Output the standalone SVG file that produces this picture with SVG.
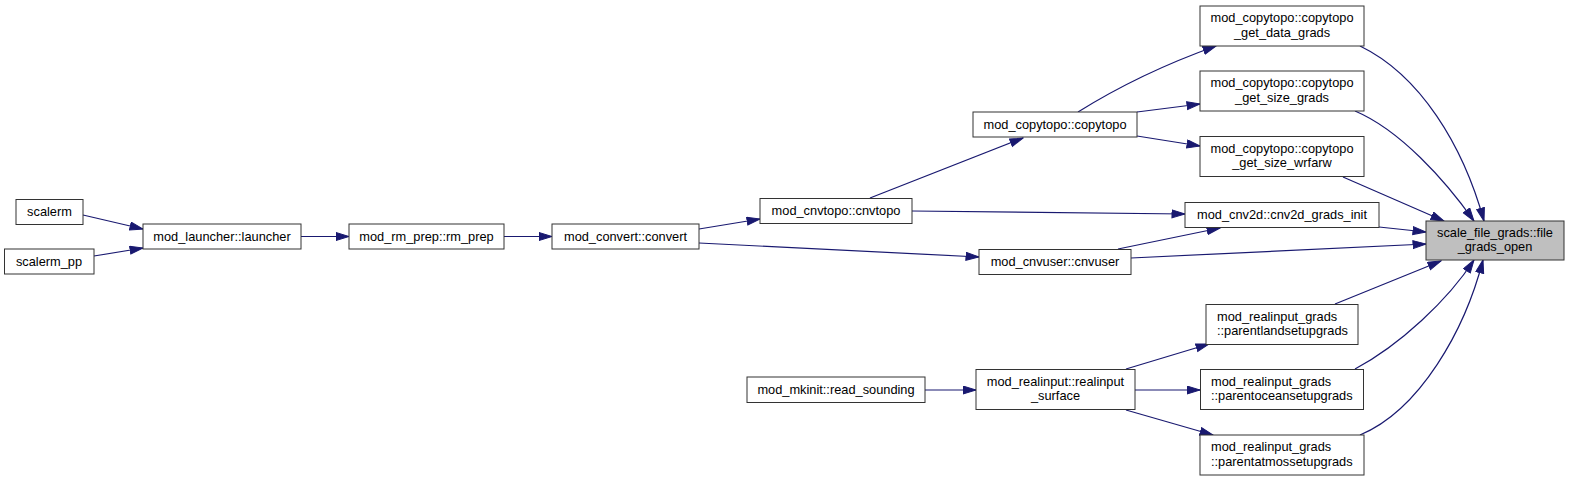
<svg xmlns="http://www.w3.org/2000/svg" width="1569" height="481" viewBox="0 0 1569 481">
<style>
.n rect{fill:#ffffff;stroke:#333333;stroke-width:1}
.n.root rect{fill:#bfbfbf}
.n text{font-family:"Liberation Sans",Arial,sans-serif;font-size:12.8px;fill:#000000}
.c{text-anchor:middle}
.e path{fill:none;stroke:#191970;stroke-width:1.2}
</style>
<defs>
<marker id="ah" markerUnits="userSpaceOnUse" markerWidth="15" markerHeight="10" refX="13.5" refY="4.5" orient="auto">
<path d="M0.5,0.5 L13.5,4.5 L0.5,8.5 z" fill="#191970" stroke="#191970" stroke-width="1"/>
</marker>
</defs>
<rect width="1569" height="481" fill="#ffffff"/>
<g class="e" id="edges">
<path d="M83,215 L143,229" marker-end="url(#ah)"/>
<path d="M94,256 L143,248" marker-end="url(#ah)"/>
<path d="M301,236.5 L349,236.5" marker-end="url(#ah)"/>
<path d="M504,236.5 L552,236.5" marker-end="url(#ah)"/>
<path d="M699,229 L760,219" marker-end="url(#ah)"/>
<path d="M699,243 L979,257" marker-end="url(#ah)"/>
<path d="M870,198 L1023,138" marker-end="url(#ah)"/>
<path d="M912,211 L1185,214" marker-end="url(#ah)"/>
<path d="M1118,249 L1220,228" marker-end="url(#ah)"/>
<path d="M1078,112 C1110,92 1160,66 1216,46" marker-end="url(#ah)"/>
<path d="M1137,112 L1200,104" marker-end="url(#ah)"/>
<path d="M1137,136 L1200,146" marker-end="url(#ah)"/>
<path d="M1360,46 C1420,75 1463,145 1484,221" marker-end="url(#ah)"/>
<path d="M1355,111 C1400,130 1445,180 1474,221" marker-end="url(#ah)"/>
<path d="M1343,177 L1444,221" marker-end="url(#ah)"/>
<path d="M1379,227 L1426,232" marker-end="url(#ah)"/>
<path d="M1131,258 L1426,244" marker-end="url(#ah)"/>
<path d="M1335,304 L1441,261" marker-end="url(#ah)"/>
<path d="M1355,369 C1400,345 1448,300 1474,260" marker-end="url(#ah)"/>
<path d="M1360,435 C1420,410 1465,330 1483,260" marker-end="url(#ah)"/>
<path d="M925,390 L976,390" marker-end="url(#ah)"/>
<path d="M1126,369 L1209,344" marker-end="url(#ah)"/>
<path d="M1135,390 L1200,390" marker-end="url(#ah)"/>
<path d="M1126,410 L1213,435" marker-end="url(#ah)"/>
</g>
<g class="n" id="scalerm"><rect x="16" y="199.5" width="67" height="25"/><text class="c" x="49.5" y="216">scalerm</text></g>
<g class="n" id="scalerm_pp"><rect x="4.5" y="249" width="89.5" height="25"/><text class="c" x="49" y="265.5">scalerm_pp</text></g>
<g class="n" id="launcher"><rect x="143" y="224" width="158" height="25"/><text class="c" x="222" y="240.5">mod_launcher::launcher</text></g>
<g class="n" id="rm_prep"><rect x="349" y="224" width="155" height="25"/><text class="c" x="426.5" y="240.5">mod_rm_prep::rm_prep</text></g>
<g class="n" id="convert"><rect x="552" y="224" width="147" height="25"/><text class="c" x="625.5" y="240.5">mod_convert::convert</text></g>
<g class="n" id="cnvtopo"><rect x="760" y="198.5" width="152" height="25"/><text class="c" x="836" y="215">mod_cnvtopo::cnvtopo</text></g>
<g class="n" id="copytopo"><rect x="973" y="112" width="164" height="25"/><text class="c" x="1055" y="128.5">mod_copytopo::copytopo</text></g>
<g class="n" id="cnvuser"><rect x="979" y="249.5" width="152" height="25"/><text class="c" x="1055" y="266">mod_cnvuser::cnvuser</text></g>
<g class="n" id="cnv2d_grads_init"><rect x="1185" y="202.5" width="194" height="25"/><text class="c" x="1282" y="219">mod_cnv2d::cnv2d_grads_init</text></g>
<g class="n root" id="file_grads_open"><rect x="1426" y="221" width="138" height="39"/><text class="c" x="1495" y="237">scale_file_grads::file</text><text class="c" x="1495" y="251">_grads_open</text></g>
<g class="n" id="get_data_grads"><rect x="1200" y="6" width="164" height="40"/><text class="c" x="1282" y="22">mod_copytopo::copytopo</text><text class="c" x="1282" y="36.5">_get_data_grads</text></g>
<g class="n" id="get_size_grads"><rect x="1200" y="71" width="164" height="40"/><text class="c" x="1282" y="87">mod_copytopo::copytopo</text><text class="c" x="1282" y="101.5">_get_size_grads</text></g>
<g class="n" id="get_size_wrfarw"><rect x="1200" y="136.5" width="164" height="40"/><text class="c" x="1282" y="152.5">mod_copytopo::copytopo</text><text class="c" x="1282" y="167">_get_size_wrfarw</text></g>
<g class="n" id="parentland"><rect x="1206" y="304.5" width="152" height="40"/><text x="1217" y="320.5">mod_realinput_grads</text><text x="1217" y="335">::parentlandsetupgrads</text></g>
<g class="n" id="parentocean"><rect x="1200.5" y="369.5" width="163" height="40"/><text x="1211" y="385.5">mod_realinput_grads</text><text x="1211" y="400">::parentoceansetupgrads</text></g>
<g class="n" id="parentatmos"><rect x="1200" y="435" width="164" height="40"/><text x="1211" y="451">mod_realinput_grads</text><text x="1211" y="465.5">::parentatmossetupgrads</text></g>
<g class="n" id="realinput_surface"><rect x="976" y="369.5" width="159" height="40"/><text class="c" x="1055.5" y="385.5">mod_realinput::realinput</text><text class="c" x="1055.5" y="400">_surface</text></g>
<g class="n" id="read_sounding"><rect x="747" y="377" width="178" height="25.5"/><text class="c" x="836" y="393.5">mod_mkinit::read_sounding</text></g>
</svg>
